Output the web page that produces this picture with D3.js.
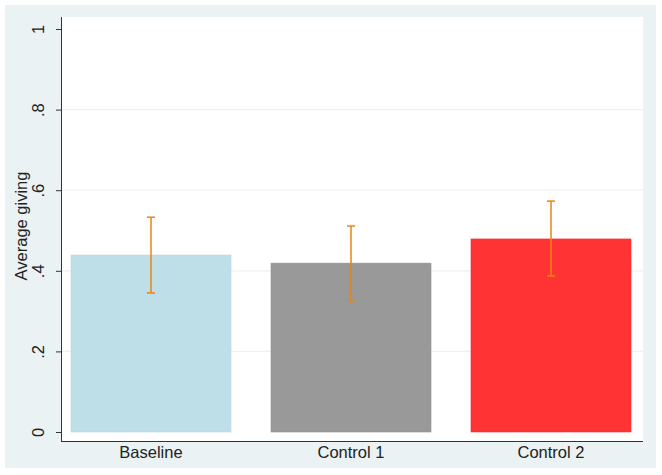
<!DOCTYPE html>
<html>
<head>
<meta charset="utf-8">
<script src="https://cdn.jsdelivr.net/npm/d3@7"></script>
<style>
  body { margin: 0; background: #fff; }
  text { font-family: "Liberation Sans", Arial, sans-serif; fill: #222; }
</style>
</head>
<body>
<div id="chart"></div>
<script>
// data
var groups = ['Baseline', 'Control 1', 'Control 2'];
var means = [0.439, 0.419, 0.479];
var upper = [0.533, 0.511, 0.573];
var lower = [0.345, 0.325, 0.387];
var barColors = ['#bfdfe8', '#999999', '#ff3333'];
var yTicks = [0, 0.2, 0.4, 0.6, 0.8, 1];
var yTickLabels = ['0', '.2', '.4', '.6', '.8', '1'];

var W = 662, H = 475;

var svg = d3.select('#chart').append('svg')
    .attr('width', W)
    .attr('height', H);

// stata-ish outer background
svg.append('rect')
    .attr('x', 5).attr('y', 5)
    .attr('width', 651).attr('height', 463)
    .attr('fill', '#eaf2f3');

// plot region
svg.append('rect')
    .attr('x', 61).attr('y', 17)
    .attr('width', 582).attr('height', 424)
    .attr('fill', '#fff');

var y = d3.scaleLinear().domain([0, 1]).range([432, 29]);
var x = d3.scaleBand().domain(groups).range([51, 651])
    .paddingInner(0.2).paddingOuter(0.1);

// grid
svg.append('g').selectAll('line')
    .data(yTicks.filter(function(d) { return d > 0 && d < 1; }))
    .enter().append('line')
    .attr('x1', 62).attr('x2', 643)
    .attr('y1', function(d) { return y(d); })
    .attr('y2', function(d) { return y(d); })
    .attr('stroke', '#eaf2f3')
    .attr('stroke-width', 1.2);

// bars
svg.append('g').selectAll('rect')
    .data(groups)
    .enter().append('rect')
    .attr('x', function(d) { return x(d); })
    .attr('width', x.bandwidth())
    .attr('y', function(d, i) { return y(means[i]); })
    .attr('height', function(d, i) { return y(0) - y(means[i]); })
    .attr('fill', function(d, i) { return barColors[i]; })
    .attr('stroke', function(d, i) { return d3.color(barColors[i]).darker(0.15); })
    .attr('stroke-width', 0.6);

// error bars
var eb = svg.append('g')
    .attr('stroke', '#e8860f')
    .attr('stroke-width', 1.5)
    .attr('fill', 'none');
groups.forEach(function(g, i) {
  var cx = x(g) + x.bandwidth() / 2;
  eb.append('line').attr('x1', cx).attr('x2', cx)
      .attr('y1', y(upper[i])).attr('y2', y(lower[i]));
  eb.append('line').attr('x1', cx - 4).attr('x2', cx + 4)
      .attr('y1', y(upper[i])).attr('y2', y(upper[i]));
  eb.append('line').attr('x1', cx - 4).attr('x2', cx + 4)
      .attr('y1', y(lower[i])).attr('y2', y(lower[i]));
});

// y axis
var yAxis = d3.axisLeft(y)
    .tickValues(yTicks)
    .tickFormat(function(d, i) { return yTickLabels[i]; })
    .tickSize(5)
    .tickSizeOuter(0);
var ya = svg.append('g').attr('transform', 'translate(61,0)').call(yAxis);
ya.select('.domain').remove();
ya.selectAll('.tick line').attr('stroke', '#333');
ya.selectAll('.tick text')
    .attr('x', 0).attr('dy', 0)
    .attr('transform', 'translate(-17,0) rotate(-90)')
    .attr('text-anchor', 'middle')
    .attr('font-size', 16.5)
    .style('fill', '#222');
svg.append('line')
    .attr('x1', 61.5).attr('x2', 61.5)
    .attr('y1', 17).attr('y2', 441.5)
    .attr('stroke', '#333').attr('stroke-width', 1);

// x axis line + labels
svg.append('line')
    .attr('x1', 61).attr('x2', 643)
    .attr('y1', 441.5).attr('y2', 441.5)
    .attr('stroke', '#333').attr('stroke-width', 1);
svg.append('g').selectAll('text')
    .data(groups)
    .enter().append('text')
    .attr('x', function(d) { return x(d) + x.bandwidth() / 2; })
    .attr('y', 458)
    .attr('text-anchor', 'middle')
    .attr('font-size', 16.5)
    .text(function(d) { return d; });

// y title
svg.append('text')
    .attr('transform', 'translate(27,226) rotate(-90)')
    .attr('text-anchor', 'middle')
    .attr('font-size', 16.5)
    .text('Average giving');
</script>
</body>
</html>
